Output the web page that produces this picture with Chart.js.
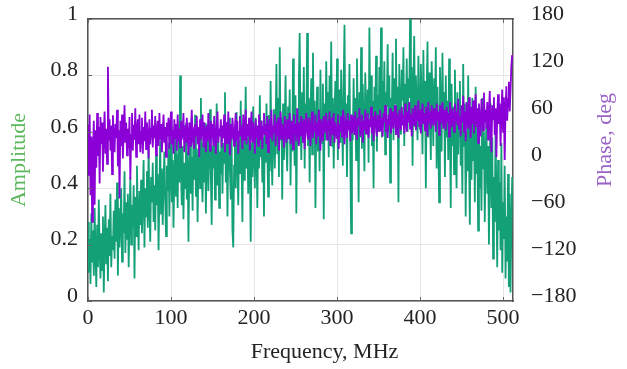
<!DOCTYPE html>
<html><head><meta charset="utf-8">
<script src="https://cdn.jsdelivr.net/npm/chart.js@4"></script>
<style>html,body{margin:0;padding:0;background:#fff}canvas{display:block}</style>
</head><body>
<canvas id="c" width="627" height="369"></canvas>
<script>
// Sampling step of the spectrum (MHz per sample)
const freqStepMHz = 1;
// Amplitude (left axis), one value per sample from 0 MHz
const amplitude = [
0.28,0.10,0.22,0.06,0.31,0.14,0.25,0.09,0.33,0.17,0.05,0.27,0.12,0.36,0.19,0.08,
0.24,0.11,0.30,0.03,0.21,0.34,0.13,0.26,0.07,0.29,0.16,0.38,0.12,0.23,0.18,0.32,
0.15,0.36,0.21,0.42,0.09,0.33,0.19,0.28,0.40,0.14,0.31,0.24,0.46,0.17,0.35,0.22,
0.38,0.12,0.30,0.44,0.20,0.34,0.26,0.41,0.08,0.37,0.23,0.48,0.29,0.18,0.39,0.27,
0.43,0.24,0.36,0.50,0.19,0.40,0.30,0.46,0.26,0.55,0.33,0.21,0.44,0.35,0.49,0.28,
0.41,0.25,0.52,0.34,0.45,0.18,0.38,0.57,0.31,0.47,0.27,0.42,0.53,0.36,0.23,0.48,
0.39,0.56,0.30,0.47,0.62,0.35,0.50,0.26,0.44,0.58,0.37,0.52,0.33,0.60,0.42,0.80,
0.46,0.34,0.55,0.29,0.49,0.40,0.63,0.36,0.53,0.21,0.45,0.57,0.38,0.51,0.32,0.59,
0.43,0.66,0.37,0.54,0.28,0.48,0.60,0.40,0.72,0.45,0.35,0.56,0.42,0.63,0.31,0.50,
0.58,0.39,0.52,0.68,0.44,0.27,0.55,0.47,0.61,0.36,0.50,0.70,0.41,0.57,0.33,0.53,
0.45,0.62,0.38,0.56,0.49,0.74,0.42,0.59,0.30,0.53,0.65,0.46,0.36,0.58,0.25,0.19,
0.48,0.60,0.40,0.67,0.52,0.34,0.57,0.45,0.71,0.49,0.28,0.61,0.43,0.55,0.76,0.47,
0.58,0.38,0.63,0.50,0.21,0.56,0.44,0.69,0.52,0.40,0.65,0.54,0.33,0.60,0.47,0.73,
0.51,0.64,0.42,0.58,0.30,0.62,0.49,0.70,0.55,0.37,0.66,0.46,0.78,0.53,0.41,0.60,
0.68,0.47,0.61,0.84,0.52,0.72,0.44,0.90,0.57,0.65,0.36,0.70,0.50,0.62,0.80,0.55,
0.46,0.69,0.58,0.75,0.41,0.64,0.53,0.86,0.60,0.48,0.73,0.31,0.66,0.56,0.78,0.95,
0.62,0.50,0.74,0.58,0.83,0.47,0.70,0.60,0.95,0.55,0.72,0.42,0.67,0.79,0.52,0.88,
0.59,0.71,0.33,0.64,0.76,0.53,0.68,0.46,0.82,0.61,0.56,0.77,0.29,0.70,0.57,0.85,
0.63,0.74,0.51,0.80,0.60,0.92,0.55,0.72,0.47,0.66,0.78,0.58,0.86,0.50,0.69,0.75,
0.56,0.82,0.64,0.48,0.77,0.98,0.59,0.70,0.44,0.73,0.62,0.84,0.52,0.24,0.66,0.57,
0.79,0.61,0.72,0.50,0.86,0.65,0.35,0.74,0.58,0.90,0.54,0.77,0.63,0.46,0.81,0.68,
0.59,0.75,0.49,0.97,0.66,0.80,0.55,0.71,0.40,0.76,0.62,0.87,0.53,0.73,0.60,0.83,
0.67,0.97,0.58,0.78,0.64,0.85,0.52,0.74,0.69,0.91,0.60,0.80,0.42,0.72,0.66,0.88,
0.57,0.79,0.70,0.93,0.62,0.76,0.35,0.84,0.68,0.59,0.82,0.71,0.90,0.55,0.77,0.64,
0.86,0.60,0.79,0.72,1.00,0.66,0.83,0.48,0.75,0.94,0.62,0.80,0.69,0.57,0.87,0.73,
0.61,0.84,0.70,0.52,0.89,0.66,0.78,0.40,0.74,0.92,0.58,0.81,0.67,0.50,0.85,0.72,
0.55,0.79,0.64,0.90,0.47,0.76,0.60,0.35,0.83,0.68,0.53,0.88,0.62,0.74,0.44,0.80,
0.58,0.71,0.50,0.86,0.63,0.33,0.77,0.55,0.69,0.45,0.82,0.60,0.40,0.74,0.52,0.67,
0.78,0.48,0.64,0.38,0.84,0.55,0.70,0.30,0.60,0.46,0.80,0.52,0.27,0.66,0.43,0.72,
0.50,0.62,0.35,0.76,0.45,0.58,0.25,0.68,0.40,0.55,0.32,0.72,0.47,0.60,0.28,0.52,
0.64,0.38,0.55,0.20,0.48,0.70,0.33,0.58,0.15,0.44,0.28,0.62,0.36,0.12,0.50,0.25,
0.42,0.18,0.56,0.10,0.35,0.22,0.48,0.08,0.30,0.14,0.45,0.05,0.38,0.03,0.26,0.44
];
// Phase in degrees (right axis), one value per sample from 0 MHz
const phaseDeg = [
45,-20,58,-45,30,-79,15,50,-57,38,-10,60,5,42,-30,55,
20,48,-15,35,62,8,40,-5,119,25,52,12,44,-18,57,30,
10,46,28,64,-8,38,-49,50,18,58,2,35,70,22,48,6,
40,15,55,-25,32,60,12,45,26,66,4,38,52,20,58,10,
36,54,8,42,24,62,14,48,30,2,52,20,40,64,16,44,
28,56,6,38,50,18,60,26,46,10,34,58,22,42,4,48,
30,54,14,44,62,20,38,8,52,28,46,12,58,24,40,16,
50,26,36,60,10,44,22,54,32,6,48,18,40,64,28,34,
14,46,30,56,20,42,4,52,26,38,58,16,48,30,10,44,
24,60,36,12,50,28,46,18,56,34,8,42,62,22,40,30,
52,16,44,28,58,10,38,48,20,62,32,6,46,26,54,36,
18,42,60,24,50,8,36,56,30,44,14,58,26,40,64,20,
46,30,54,12,40,62,22,48,34,8,52,28,44,18,58,36,
26,50,14,42,60,32,46,20,56,10,38,52,28,64,24,44,
34,58,18,48,30,54,12,42,62,26,46,36,16,56,40,22,
52,28,44,60,20,38,50,14,58,32,46,24,66,36,18,48,
30,56,40,22,52,14,46,60,34,26,54,42,18,50,62,28,
44,36,58,20,48,30,64,38,12,52,42,24,56,34,46,60,
26,50,38,62,18,44,54,32,60,22,48,40,28,58,14,46,
36,56,30,64,42,20,52,46,28,60,38,50,24,58,34,44,
56,32,62,40,26,54,44,66,30,48,58,22,50,38,64,34,
46,60,28,52,42,68,34,56,24,50,62,40,30,58,46,36,
64,38,54,30,60,48,70,36,52,28,58,44,66,34,50,62,
40,56,70,32,60,46,28,64,52,38,68,44,58,34,72,50,
36,62,48,74,40,58,30,66,52,44,70,38,60,50,76,42,
64,34,56,72,46,60,38,68,52,30,74,48,62,40,70,54,
44,66,58,36,72,50,62,32,70,46,56,74,40,64,52,38,
68,48,60,30,74,54,42,66,58,36,72,50,62,44,78,40,
56,30,70,48,82,36,62,24,74,52,40,80,58,28,68,46,
76,34,60,84,42,66,22,72,50,30,78,56,38,86,48,64,
40,74,26,62,88,44,10,70,52,80,32,66,4,58,84,46,
72,18,60,90,36,80,0,66,94,50,78,100,62,88,120,134
];
const freqTicks = [0,100,200,300,400,500];
const freqTickLabels = ['0','100','200','300','400','500'];
const ampTicks = [0,0.2,0.4,0.6,0.8,1];
const ampTickLabels = ['0','0.2','0.4','0.6','0.8','1'];
const phaseTicks = [-180,-120,-60,0,60,120,180];
const phaseTickLabels = ['\u2212180','\u2212120','\u221260','0','60','120','180'];
const xTitle = 'Frequency, MHz';
const yTitle = 'Amplitude';
const y1Title = 'Phase, deg';

const FONT = 'Liberation Serif';
const tickFont = {family: FONT, size: 22};
const GRID = '#e6e6e6';
const BORDER = '#555555';

const ampPoints = amplitude.map((v, i) => ({x: i * freqStepMHz, y: v}));
const phasePoints = phaseDeg.map((v, i) => ({x: i * freqStepMHz, y: v}));

function fixTicks(values) {
  return (scale) => { scale.ticks = values.map(v => ({value: v})); };
}
function labelFrom(values, labels) {
  return (v) => { const i = values.indexOf(v); return i >= 0 ? labels[i] : ''; };
}

const extras = {
  id: 'extras',
  afterDraw(chart) {
    const {ctx, chartArea: a, scales} = chart;
    ctx.save();
    ctx.strokeStyle = '#666';
    ctx.lineWidth = 1;
    ctx.beginPath();
    freqTicks.forEach(v => {
      const x = Math.round(scales.x.getPixelForValue(v)) + 0.5;
      ctx.moveTo(x, a.bottom); ctx.lineTo(x, a.bottom - 4);
      ctx.moveTo(x, a.top); ctx.lineTo(x, a.top + 4);
    });
    ampTicks.forEach(v => {
      const y = Math.round(scales.y.getPixelForValue(v)) + 0.5;
      ctx.moveTo(a.left, y); ctx.lineTo(a.left + 4, y);
    });
    ctx.stroke();
    ctx.font = '22px "' + FONT + '"';
    ctx.textAlign = 'center';
    ctx.textBaseline = 'middle';
    ctx.fillStyle = '#222';
    ctx.fillText(xTitle, (a.left + a.right) / 2 + 24, 352);
    ctx.save();
    ctx.translate(19, (a.top + a.bottom) / 2);
    ctx.rotate(-Math.PI / 2);
    ctx.fillStyle = '#5cb85c';
    ctx.fillText(yTitle, 0, 0);
    ctx.restore();
    ctx.save();
    ctx.translate(605, (a.top + a.bottom) / 2 - 20);
    ctx.rotate(-Math.PI / 2);
    ctx.fillStyle = '#9a62c8';
    ctx.fillText(y1Title, 0, 0);
    ctx.restore();
    ctx.restore();
  }
};

function noOverflow(width) {
  return (s) => { s.width = width; s.paddingTop = 0; s.paddingBottom = 0; };
}

new Chart(document.getElementById('c'), {
  type: 'line',
  data: {
    datasets: [
      {label: 'Amplitude', data: ampPoints, yAxisID: 'y', borderColor: '#13a077',
       borderWidth: 1.8, pointRadius: 0, fill: false, tension: 0, order: 1},
      {label: 'Phase', data: phasePoints, yAxisID: 'y1', borderColor: '#8a00d6',
       borderWidth: 1.8, pointRadius: 0, fill: false, tension: 0, order: 0}
    ]
  },
  options: {
    responsive: false,
    animation: false,
    events: [],
    layout: {padding: {top: 19, left: 0, right: 0, bottom: 0}},
    plugins: {legend: {display: false}, tooltip: {enabled: false}},
    scales: {
      x: {
        type: 'linear', position: 'bottom', min: 0, max: 512,
        afterBuildTicks: fixTicks(freqTicks),
        afterFit: (s) => { s.height = 68; s.paddingLeft = 0; s.paddingRight = 0; },
        ticks: {font: tickFont, color: '#222', padding: 4, maxRotation: 0, autoSkip: false,
                callback: labelFrom(freqTicks, freqTickLabels)},
        grid: {color: GRID, drawTicks: false},
        border: {color: BORDER, width: 1.5}
      },
      x2: {
        type: 'linear', position: 'top', min: 0, max: 512,
        afterFit: (s) => { s.height = 0; s.paddingLeft = 0; s.paddingRight = 0; },
        ticks: {display: false},
        grid: {drawOnChartArea: false, drawTicks: false},
        border: {color: BORDER, width: 1.5}
      },
      y: {
        type: 'linear', position: 'left', min: 0, max: 1,
        afterBuildTicks: fixTicks(ampTicks),
        afterFit: noOverflow(88),
        ticks: {font: tickFont, color: '#222', padding: 10, labelOffset: -5,
                callback: labelFrom(ampTicks, ampTickLabels)},
        grid: {color: GRID, drawTicks: false},
        border: {color: BORDER, width: 1.5}
      },
      y1: {
        type: 'linear', position: 'right', min: -180, max: 180,
        afterBuildTicks: fixTicks(phaseTicks),
        afterFit: noOverflow(114),
        ticks: {font: tickFont, color: '#222', padding: 18, labelOffset: -5,
                callback: labelFrom(phaseTicks, phaseTickLabels)},
        grid: {drawOnChartArea: false, drawTicks: false},
        border: {color: BORDER, width: 1.5}
      }
    }
  },
  plugins: [extras]
});
</script>
</body></html>
